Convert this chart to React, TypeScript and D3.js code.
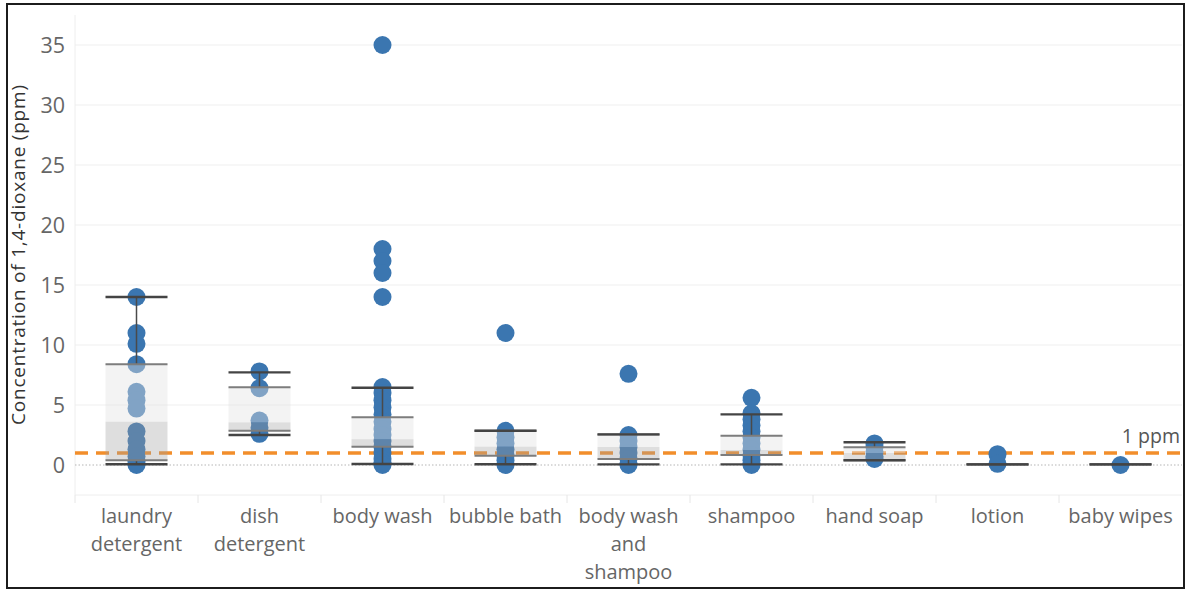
import React from "react";
import * as d3 from "d3";

const categories = [
  "laundry detergent",
  "dish detergent",
  "body wash",
  "bubble bath",
  "body wash and shampoo",
  "shampoo",
  "hand soap",
  "lotion",
  "baby wipes",
];
const categoryLabelLines = [
  ["laundry", "detergent"],
  ["dish", "detergent"],
  ["body wash"],
  ["bubble bath"],
  ["body wash", "and", "shampoo"],
  ["shampoo"],
  ["hand soap"],
  ["lotion"],
  ["baby wipes"],
];

// measured concentrations (ppm) per category
const laundryValues = [14, 11, 10.1, 8.4, 6.1, 5.4, 4.7, 2.8, 2.0, 1.3, 0.7, 0.3, 0];
const dishValues = [7.8, 6.4, 3.7, 3.1, 2.6];
const bodyWashValues = [35, 18, 17, 16, 14, 6.5, 6.0, 5.4, 4.8, 4.2, 3.6, 3.0, 2.5, 2.0, 1.5, 1.0, 0.5, 0.2, 0];
const bubbleBathValues = [11, 2.85, 2.3, 1.8, 1.3, 0.8, 0.4, 0];
const bodyWashShampooValues = [7.6, 2.5, 2.0, 1.5, 1.0, 0.5, 0.1, 0];
const shampooValues = [5.6, 4.3, 3.8, 3.3, 2.8, 2.3, 1.8, 1.3, 0.8, 0.4, 0.1, 0];
const handSoapValues = [1.8, 1.5, 1.1, 0.7, 0.5];
const lotionValues = [0.9, 0.1];
const babyWipesValues = [0];

const valuesByCategory = [
  laundryValues,
  dishValues,
  bodyWashValues,
  bubbleBathValues,
  bodyWashShampooValues,
  shampooValues,
  handSoapValues,
  lotionValues,
  babyWipesValues,
];

// box plot statistics
const whiskerLow = [0.06, 2.5, 0.08, 0.06, 0.05, 0.05, 0.39, 0.05, 0.05];
const quartile1 = [0.4, 2.86, 1.53, 0.78, 0.5, 0.83, 0.39, 0.05, 0.05];
const medians = [3.6, 3.55, 2.15, 1.53, 1.5, 1.25, 1.0, 0.05, 0.05];
const quartile3 = [8.4, 6.47, 3.97, 2.86, 2.55, 2.44, 1.47, 0.05, 0.05];
const whiskerHigh = [14, 7.72, 6.44, 2.86, 2.55, 4.22, 1.89, 0.05, 0.05];

const yTicks = [0, 5, 10, 15, 20, 25, 30, 35];
const referenceValue = 1;
const referenceLabel = "1 ppm";
const yTitle = "Concentration of 1,4-dioxane (ppm)";

const W = 1190;
const H = 590;
const FONT = "'Open Sans', Lato, sans-serif";

export default function App() {
  const x = d3.scaleBand<string>().domain(categories).range([75, 1182]);
  const y = d3.scaleLinear().domain([-2.5, 37.5]).range([495, 15]);
  const bw = x.bandwidth();
  const boxW = 62;
  const dotColor = "#3b76b0";

  return (
    <div style={{ position: "absolute", left: 0, top: 0 }}>
      <svg width={W} height={H} style={{ display: "block", background: "#fff" }}>
        {/* gridlines */}
        {yTicks.filter((t) => t !== 0).map((t) => (
          <line key={"g" + t} x1={75} x2={1182} y1={y(t)} y2={y(t)} stroke="#efefef" strokeWidth={1} />
        ))}
        {/* plot left & bottom borders */}
        <line x1={75} x2={75} y1={15} y2={495} stroke="#eeeeee" strokeWidth={1} />
        <line x1={75} x2={1182} y1={495} y2={495} stroke="#eeeeee" strokeWidth={1} />
        {categories.map((c, i) => (
          <line key={"sep" + i} x1={x(c)!} x2={x(c)!} y1={495} y2={503} stroke="#e6e6e6" strokeWidth={1} />
        ))}
        {/* zero line */}
        <line x1={75} x2={1182} y1={y(0)} y2={y(0)} stroke="#b5b5b5" strokeWidth={1} strokeDasharray="1.5,2" />
        {/* reference line */}
        <line
          x1={75}
          x2={1182}
          y1={y(referenceValue)}
          y2={y(referenceValue)}
          stroke="#f28e2b"
          strokeWidth={3.4}
          strokeDasharray="13,8"
        />
        <text x={1180} y={y(referenceValue) - 10} textAnchor="end" fontFamily={FONT} fontSize={19.5} fill="#555">
          {referenceLabel}
        </text>

        {/* dots */}
        {categories.map((c, i) => {
          const cx = x(c)! + bw / 2;
          return valuesByCategory[i].map((v, j) => (
            <circle key={c + j} cx={cx} cy={y(v)} r={9} fill={dotColor} />
          ));
        })}

        {/* boxes */}
        {categories.map((c, i) => {
          const cx = x(c)! + bw / 2;
          const x0 = cx - boxW / 2;
          const x1 = cx + boxW / 2;
          return (
            <g key={"box" + i}>
              {quartile3[i] > medians[i] && (
                <rect x={x0} width={boxW} y={y(quartile3[i])} height={y(medians[i]) - y(quartile3[i])} fill="rgb(226,226,226)" fillOpacity={0.42} />
              )}
              {medians[i] > quartile1[i] && (
                <rect x={x0} width={boxW} y={y(medians[i])} height={y(quartile1[i]) - y(medians[i])} fill="rgb(160,160,160)" fillOpacity={0.35} />
              )}
              {/* whisker stems */}
              {whiskerHigh[i] > quartile3[i] && (
                <line x1={cx} x2={cx} y1={y(whiskerHigh[i])} y2={y(quartile3[i])} stroke="#4a4a4a" strokeWidth={1.5} />
              )}
              {quartile1[i] > whiskerLow[i] && (
                <line x1={cx} x2={cx} y1={y(quartile1[i])} y2={y(whiskerLow[i])} stroke="#4a4a4a" strokeWidth={1.5} />
              )}
              {/* quartile edges */}
              {quartile3[i] > quartile1[i] && (
                <>
                  <line x1={x0} x2={x1} y1={y(quartile3[i])} y2={y(quartile3[i])} stroke="#7d7d7d" strokeWidth={2} />
                  <line x1={x0} x2={x1} y1={y(quartile1[i])} y2={y(quartile1[i])} stroke="#7d7d7d" strokeWidth={2} />
                </>
              )}
              {/* whisker caps */}
              <line x1={x0} x2={x1} y1={y(whiskerHigh[i])} y2={y(whiskerHigh[i])} stroke="#444" strokeWidth={2.4} />
              <line x1={x0} x2={x1} y1={y(whiskerLow[i])} y2={y(whiskerLow[i])} stroke="#444" strokeWidth={2.4} />
            </g>
          );
        })}

        {/* y axis labels */}
        {yTicks.map((t) => (
          <text key={"yt" + t} x={65} y={y(t)} dy="0.36em" textAnchor="end" fontFamily={FONT} fontSize={21.5} fill="#666">
            {t}
          </text>
        ))}
        <text
          transform={`translate(25, ${255}) rotate(-90)`}
          textAnchor="middle"
          fontFamily={FONT}
          fontSize={19}
          textLength={340}
          lengthAdjust="spacing"
          fill="#333"
        >
          {yTitle}
        </text>

        {/* x labels */}
        {categories.map((c, i) => (
          <text key={"xl" + i} textAnchor="middle" fontFamily={FONT} fontSize={20} fill="#666">
            {categoryLabelLines[i].map((line, k) => (
              <tspan key={k} x={x(c)! + bw / 2} y={523 + k * 28}>
                {line}
              </tspan>
            ))}
          </text>
        ))}

        {/* frame */}
        <rect x={7} y={4} width={1177} height={584} fill="none" stroke="#1c1c1c" strokeWidth={2} />
      </svg>
    </div>
  );
}
